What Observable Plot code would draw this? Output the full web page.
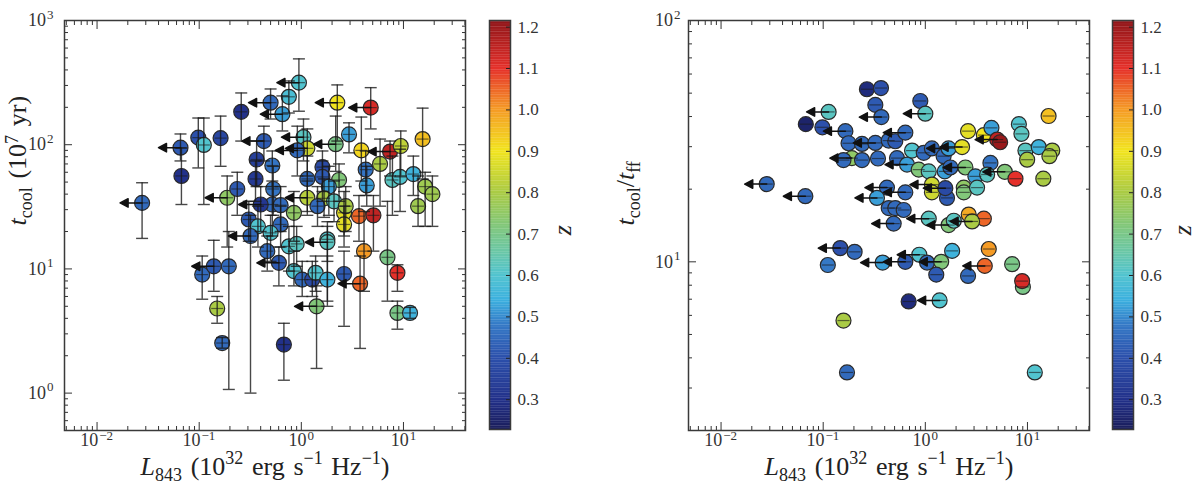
<!DOCTYPE html>
<html><head><meta charset="utf-8">
<script src="https://cdn.jsdelivr.net/npm/d3@7"></script>
<script src="https://cdn.jsdelivr.net/npm/@observablehq/plot@0.6"></script>
<style>
body{margin:0;background:#fff;}
#wrap{position:relative;width:1197px;height:492px;overflow:hidden;background:#fff;}
</style></head><body><div id="wrap"></div>
<script>
// ---------------- data: left panel (t_cool vs L843) ----------------
const L843_a = [0.0276,0.0656,0.067,0.098,0.111,0.162,0.258,0.43,0.50,0.652,
0.755,0.947,2.25,4.78,0.365,0.52,1.05,1.145,0.914,2.17,
2.93,3.87,7.39,9.41,15.4,5.9,4.27,4.37,7.8,9.26,
12.5,16.3,19.2,13.9,1.61,1.61,2.34,1.145,1.86,0.531,
0.356,0.188,0.236,0.52,0.627,0.40,0.846,1.145,1.67,1.44,
2.09,2.62,2.72,3.67,5.08,2.62,1.8,0.306,0.376,0.627,
0.50,0.318,0.107,0.139,0.195,0.15,0.168,0.675,0.464,0.603,
0.756,0.90,1.8,4.11,6.97,8.73,0.846,1.02,1.28,1.38,
1.8,2.62,3.76,1.41,8.73,11.6];
const tcool_a = [34,94.6,56,114,99.5,113,184,107,218,176,
243,316,218,199,76,68,115,93.5,90,101,
121,90,88,97.6,111,70,63,47,52,55,
58,46,40,32,66,55,52,53,46,44,
53,37.4,44,33,32.6,33,28.3,37.4,37,32,
35,28.3,32,26.6,27,22.8,17.3,25,22,22.8,
19.5,18.4,9.0,10.5,10.5,4.8,2.53,2.46,13.9,11.2,
15.2,15.9,16.4,13.9,12.4,9.3,9.6,8.2,8.2,9.3,
8.2,9.1,7.6,5.0,4.42,4.42];
const tcoolLo_a = [17.6,74,33,65,33,67,107,74,161,129,
180,186,107,134,46,46,74,56,56,61,
86,51,56,56,53,32,39,32,27,29,
39,22,22,22,42,35,35,29,27,27,
35,15,27,18.4,20,20,16.7,27,26,22,
24,18.4,20,16.7,13.9,15,11.5,16.7,15,15,
11.5,1.0,5.7,6.6,1.07,3.65,2.3,1.27,9.6,7.3,
9.6,10.5,5.5,6.6,5.5,6.6,7.3,6.0,6.0,6.6,
5.0,3.45,2.29,1.58,3.27,4.0];
const tcoolHi_a = [49.4,122,94,164,164,170,261,141,281,247,
326,491,303,288,107,89,161,134,141,170,
150,167,107,129,197,111,89,67,81,92,
81,60,56,56,89,74,70,81,67,67,
74,56,60,51,46,46,42,51,53,46,
51,42,46,39,39,32,24,35,32,32,
27,27,12.7,17,20,6.0,2.8,3.65,18.4,15,
22,22,22,29,35,10.8,13.9,11.5,11.5,12.7,
12.7,13.9,12.7,7.3,5.5,4.9];
const z_a = [.45,.42,.30,.40,.60,.37,.30,.42,.45,.52,
.58,.60,.90,1.12,.35,.47,.62,.85,.45,.70,
.52,.92,1.15,.83,.95,.80,.47,.52,.62,.60,
.55,.78,.78,.78,.38,.42,.72,.45,.52,.47,
.33,.75,.42,.45,.45,.32,.75,.82,.80,.45,
.62,.88,.80,1.05,1.15,.88,.60,.42,.60,.45,
.60,.45,.45,.42,.45,.80,.45,.30,.45,.42,
.60,.62,.62,1.00,.70,1.10,.60,.45,.38,.60,
.55,.42,1.05,.72,.70,.55];
const upperLim_a = [1,1,0,0,0,0,0,1,1,1,
0,1,1,1,0,0,1,1,1,1,
0,0,1,0,0,0,0,0,0,0,
0,0,0,0,0,0,0,0,0,0,
0,1,0,0,0,1,0,1,0,0,
0,0,0,0,0,0,0,0,0,0,
0,1,0,1,0,0,0,0,0,1,
0,0,1,0,0,0,0,0,0,0,
0,0,1,1,0,0];

// ---------------- data: right panel (t_cool/t_ff vs L843) ----------------
const L843_b = [0.268,0.368,0.324,0.371,0.113,0.0676,0.0982,0.165,0.177,0.24,
0.324,0.438,0.508,0.637,0.893,1.0,0.191,0.158,0.24,0.344,
0.528,0.662,0.741,0.965,1.16,1.51,1.69,2.29,0.862,1.08,
1.55,1.76,2.47,4.34,3.09,4.03,6.0,7.63,2.62,3.74,
4.44,5.05,5.4,8.24,8.73,9.55,12.9,9.93,17.5,16.4,
14.3,16.1,0.421,0.637,0.336,1.16,1.16,1.63,1.57,2.38,
2.38,3.21,0.438,0.508,0.614,0.49,1.08,2.66,3.74,2.87,
1.69,1.9,0.028,0.0669,0.147,0.203,0.111,0.382,0.637,0.873,
1.04,1.43,1.83,1.28,2.62,3.82,4.18,7.08,9.02,8.87,
0.687,1.38,0.158,0.171,11.8];
const ratio_b = [51.9,52.5,44.7,39.8,41.8,37.2,36.1,34.8,31.0,30.8,
31.1,31.8,31.6,34.3,46.4,41.1,26.9,26.4,26.4,26.8,
26.9,25.3,28.9,28.3,29.5,27.4,29.5,29.9,24.1,23.7,
23.7,24.6,24.6,25.7,22.6,23.0,23.6,22.1,34.8,33.5,
35.9,32.1,31.3,37.2,33.9,28.9,29.9,26.5,28.9,27.4,
22.1,40.2,20.3,19.4,18.4,20.9,19.4,18.4,20.2,20.3,
19.4,20.3,16.7,16.7,16.4,14.4,15.1,15.7,15.1,14.7,
14.2,14.8,21.0,18.7,11.4,11.0,9.7,9.93,10.0,10.7,
9.93,10.0,11.1,8.85,8.74,9.62,11.3,9.78,7.87,8.32,
6.85,6.92,5.71,3.48,3.48];
const z_b = [.28,.40,.42,.45,.62,.25,.40,.45,.45,.45,
.45,.45,.42,.45,.42,.62,.75,.45,.45,.45,
.45,.52,.60,.45,.45,.45,.52,.88,.72,.62,
.52,.45,.72,.47,.52,.62,.72,1.10,.88,.90,
.52,1.15,1.2,.60,.62,.62,.55,.80,.80,.80,
.80,.95,.45,.45,.52,.85,.85,.42,.38,.75,
.72,.62,.45,.45,.45,.45,.62,.98,1.05,.80,
.72,.62,.45,.45,.40,.45,.48,.52,.42,.60,
.45,.72,.55,.42,.45,1.05,1.00,.70,.70,1.12,
.28,.60,.80,.45,.60];
const upperLim_b = [0,0,0,1,1,0,0,1,0,0,
1,0,0,1,0,1,1,0,0,0,
0,1,0,0,0,0,1,1,0,0,
0,0,1,0,0,0,1,0,0,0,
0,1,0,0,0,0,0,0,0,0,
0,0,1,1,1,1,0,0,1,0,
0,0,0,0,0,1,1,0,0,1,
1,0,1,1,1,0,0,1,1,1,
0,1,0,0,0,1,0,0,0,0,
0,1,0,0,0];

// ---------------- axes / ticks / colour map ----------------
const xMajor = [0.01, 0.1, 1, 10];
const yMajor_a = [1, 10, 100, 1000];
const yMajor_b = [10, 100];
const zTicks = [0.3, 0.4, 0.5, 0.6, 0.7, 0.8, 0.9, 1.0, 1.1, 1.2];
const xDomain = [0.0048, 40.5];
const yDomain_a = [0.5, 1000];
const yDomain_b = [2, 100];
const zDomain = [0.228, 1.216];
const zStops  = [0.228, 0.30, 0.40, 0.48, 0.54, 0.60, 0.66, 0.72, 0.80, 0.90, 1.00, 1.10, 1.216];
const zColors = ["#1b1e5c","#22318a","#2c50ab","#3579c6","#3cb0df","#52c4cf","#6cc7a4","#82c77a","#aacb45","#f2e41e","#f59b25","#e5302a","#8e1519"];

const dataA = L843_a.map((x, i) => ({x, y: tcool_a[i], lo: tcoolLo_a[i], hi: tcoolHi_a[i], z: z_a[i], lim: upperLim_a[i]}));
const dataB = L843_b.map((x, i) => ({x, y: ratio_b[i], z: z_b[i], lim: upperLim_b[i]}));

const FONT = "'Liberation Serif','DejaVu Serif','Times New Roman',serif";
const TF = 18, EF = 13, INK = "#333", LF = 26, LSF = 18;
const colorOpt = {type: "linear", domain: zStops, range: zColors};

const cap = {draw(ctx) { ctx.moveTo(-6, 0); ctx.lineTo(6, 0); }};
const arrowShape = {draw(ctx, l) {
  ctx.moveTo(0, 0); ctx.lineTo(0, -l + 6);
  ctx.moveTo(0, -l); ctx.lineTo(-4.2, -l + 8); ctx.lineTo(4.2, -l + 8); ctx.closePath();
}};

function minorTicks([a, b]) {
  const out = [];
  for (let e = Math.floor(Math.log10(a)); e <= Math.ceil(Math.log10(b)); e++)
    for (let m = 2; m <= 9; m++) { const v = m * 10 ** e; if (v >= a && v <= b) out.push(v); }
  return out;
}
const expStr = d => { const e = Math.round(Math.log10(d)); return e < 0 ? "\u2212" + (-e) : String(e); };
const expW = s => [...s].reduce((w, c) => w + (c === "\u2212" ? 0.62 : 0.5) * EF, 0);

function xTickLabels(ticks) {
  return ticks.flatMap(t => {
    const s = expStr(t), tw = TF + expW(s) + 1;
    return [
      Plot.text([t], {x: d => d, frameAnchor: "bottom", text: () => "10", textAnchor: "start", dx: -tw / 2, dy: 15.5, fontSize: TF, fill: INK}),
      Plot.text([t], {x: d => d, frameAnchor: "bottom", text: () => s, textAnchor: "start", dx: -tw / 2 + TF + 1, dy: 9.5, fontSize: EF, fill: INK})
    ];
  });
}
function yTickLabels(ticks, gap) {
  return ticks.flatMap(t => {
    const s = expStr(t), ew = expW(s);
    return [
      Plot.text([t], {y: d => d, frameAnchor: "left", text: () => "10", textAnchor: "end", dx: -gap - ew - 1, dy: 0, fontSize: TF, fill: INK}),
      Plot.text([t], {y: d => d, frameAnchor: "left", text: () => s, textAnchor: "end", dx: -gap, dy: -6, fontSize: EF, fill: INK})
    ];
  });
}

function frameAxes(yDomain, yMajor) {
  const xMin = minorTicks(xDomain), yMin = minorTicks(yDomain);
  const o = {tickFormat: () => "", label: null, color: INK};
  return [
    Plot.axisX(xMin, {anchor: "bottom", tickSize: -4, ...o}),
    Plot.axisX(xMin, {anchor: "top", tickSize: -4, ...o}),
    Plot.axisX(xMajor, {anchor: "bottom", tickSize: -8, ...o}),
    Plot.axisX(xMajor, {anchor: "top", tickSize: -8, ...o}),
    Plot.axisY(yMin, {anchor: "left", tickSize: -4, ...o}),
    Plot.axisY(yMin, {anchor: "right", tickSize: -4, ...o}),
    Plot.axisY(yMajor, {anchor: "left", tickSize: -8, ...o}),
    Plot.axisY(yMajor, {anchor: "right", tickSize: -8, ...o})
  ];
}

function panel({data, yDomain, yMajor, errors, width, ml, mr, ylabelKey, ylabelDx, ygap}) {
  const marks = [
    Plot.dot(data, {x: "x", y: "y", r: 7.5, fill: "z", stroke: "#2a2a2a", strokeWidth: 1.2})
  ];
  if (errors) {
    marks.push(
      Plot.ruleX(data, {x: "x", y1: "lo", y2: "hi", stroke: "#1a1a1a", strokeWidth: 1.4, strokeOpacity: 0.8}),
      Plot.dot(data, {x: "x", y: "lo", symbol: cap, r: 6, stroke: "#1a1a1a", strokeWidth: 1.4, strokeOpacity: 0.8, fill: "none"}),
      Plot.dot(data, {x: "x", y: "hi", symbol: cap, r: 6, stroke: "#1a1a1a", strokeWidth: 1.4, strokeOpacity: 0.8, fill: "none"})
    );
  }
  marks.push(
    Plot.dot(data, {x: "x", y: "y", symbol: cap, r: 6, stroke: "#1a1a1a", strokeWidth: 1.2, strokeOpacity: 0.6, fill: "none"}),
    Plot.vector(data.filter(d => d.lim), {x: "x", y: "y", rotate: -90, length: 22, anchor: "start", shape: arrowShape, stroke: "#111", fill: "#111", strokeWidth: 1.5}),
    ...frameAxes(yDomain, yMajor),
    ...xTickLabels(xMajor),
    ...yTickLabels(yMajor, ygap),
    Plot.text(["XLABEL"], {frameAnchor: "bottom", dy: 44, text: d => d, fontSize: LF, fill: "#222"}),
    Plot.text([ylabelKey], {frameAnchor: "left", dx: ylabelDx, rotate: -90, text: d => d, fontSize: LF, fill: "#222"}),
    Plot.frame({stroke: "#3a3a3a", strokeWidth: 1.5})
  );
  return Plot.plot({
    width, height: 492, marginLeft: ml, marginRight: mr, marginTop: 20, marginBottom: 62,
    x: {type: "log", domain: xDomain},
    y: {type: "log", domain: yDomain},
    color: colorOpt,
    style: {fontFamily: FONT, background: "none", overflow: "visible"},
    marks
  });
}

function colorbar(width, ml, mr, zdx) {
  const step = 0.004;
  const bins = d3.range(zDomain[0], zDomain[1], step);
  return Plot.plot({
    width, height: 492, marginLeft: ml, marginRight: mr, marginTop: 20, marginBottom: 63,
    x: {domain: [0, 1], axis: null},
    y: {domain: zDomain},
    color: colorOpt,
    style: {fontFamily: FONT, background: "none", overflow: "visible"},
    marks: [
      Plot.rect(bins, {x1: 0, x2: 1, y1: d => d, y2: d => Math.min(d + step * 1.15, zDomain[1]), fill: d => d + step / 2}),
      Plot.axisY(zTicks, {anchor: "right", tickSize: -5, tickFormat: () => "", label: null, color: "#222"}),
      Plot.text(zTicks, {y: d => d, frameAnchor: "right", text: d => d.toFixed(1), textAnchor: "start", dx: 7, fontSize: 17, fill: INK}),
      Plot.frame({stroke: "#3a3a3a", strokeWidth: 1.5}),
      Plot.text(["z"], {frameAnchor: "right", dx: zdx, rotate: -90, text: d => d, fontSize: LF, fontStyle: "italic", fill: "#222"})
    ]
  });
}

const SP = "\u2004";
const RICH = {
  XLABEL: [{t: "L", i: 1}, {t: "843", sub: 1}, {t: SP + "(10"}, {t: "32", sup: 1}, {t: SP + "erg" + SP + "s"}, {t: "\u22121", sup: 1}, {t: SP + "Hz"}, {t: "\u22121", sup: 1}, {t: ")"}],
  YLABEL_A: [{t: "t", i: 1}, {t: "cool", sub: 1}, {t: SP + "(10"}, {t: "7", sup: 1}, {t: SP + "yr)"}],
  YLABEL_B: [{t: "t", i: 1}, {t: "cool", sub: 1}, {t: "/"}, {t: "t", i: 1}, {t: "ff", sub: 1}]
};
function richify(svg) {
  d3.select(svg).selectAll("text").each(function () {
    const parts = RICH[this.textContent];
    if (!parts) return;
    const up = this.textContent === "XLABEL" ? -11 : -8;
    const t = d3.select(this).text(null).style("white-space", "pre");
    let shift = 0;
    for (const p of parts) {
      const target = p.sub ? 6 : p.sup ? up : 0;
      const ts = t.append("tspan").text(p.t).attr("dy", target - shift);
      shift = target;
      if (p.sub || p.sup) ts.attr("font-size", LSF);
      if (p.i) ts.attr("font-style", "italic");
    }
  });
}

const wrap = document.getElementById("wrap");
function place(svg, left) {
  svg.style.position = "absolute"; svg.style.left = left + "px"; svg.style.top = "0px";
  svg.style.maxWidth = "none";
  richify(svg);
  wrap.appendChild(svg);
}

place(panel({data: dataA, yDomain: yDomain_a, yMajor: yMajor_a, errors: true, width: 480, ml: 64, mr: 15, ylabelKey: "YLABEL_A", ylabelDx: -47, ygap: 11}), 0);
place(colorbar(100, 9, 70, 52), 480);
place(panel({data: dataB, yDomain: yDomain_b, yMajor: yMajor_b, errors: false, width: 500, ml: 88, mr: 11, ylabelKey: "YLABEL_B", ylabelDx: -63, ygap: 8}), 600);
place(colorbar(97, 12, 64, 49), 1100);
</script></body></html>
